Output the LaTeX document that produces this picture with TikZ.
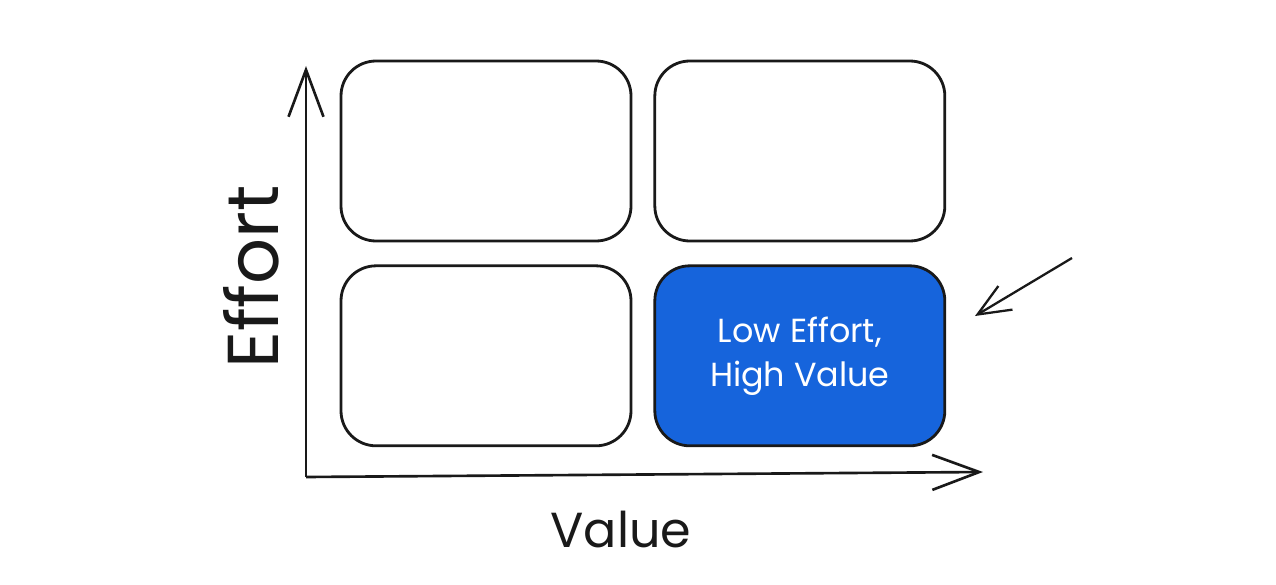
\documentclass[tikz,border=0pt]{standalone}
\usepackage{fontspec}
\setmainfont{Poppins}
\usetikzlibrary{arrows.meta, positioning}
\definecolor{quadblue}{RGB}{22,100,220}
\tikzset{
  quad/.style={
    rectangle, rounded corners=0.7cm, draw=black!90, line width=1.6pt,
    fill=white, minimum width=5.8cm, minimum height=3.6cm,
    align=center, font=\fontsize{19}{25}\selectfont
  },
  axis/.style={-{Straight Barb[length=0.94cm, width=0.7cm, line width=1.5pt]}, line width=1.5pt, draw=black!90},
  pointer/.style={-{Straight Barb[length=0.65cm, width=0.55cm, line width=1.3pt]}, line width=1.3pt, draw=black!90},
  axislabel/.style={font=\fontsize{#1}{38}\selectfont, text=black!90}
}
\begin{document}
\begin{tikzpicture}[node distance=0.44cm and 0.42cm]
  \useasboundingbox (0,0) rectangle (25.52,11.68);
  % quadrants
  \node[quad] (hehv) at (9.72,8.66) {};
  \node[quad, right=of hehv] (lehv0) {};
  \node[quad, below=of hehv] (lelv) {};
  \node[quad, fill=quadblue, text=white, right=of lelv] (lehv) {Low Effort,\\High Value};

  % axes
  \coordinate (origin) at (6.12,2.14);
  \coordinate (ytip) at (6.12,10.36);
  \coordinate (xtip) at (19.66,2.24);
  \draw[axis] (origin) -- (ytip);
  \draw[axis] (origin) -- (xtip);
  \node[axislabel=41, rotate=90] (effort) at (5.02,6.14) {Effort};
  \node[axislabel=28] (value) at (12.42,1.08) {Value};

  % pointer to the sweet spot
  \coordinate (tail) at (21.44,6.52);
  \coordinate (head) at (19.5,5.36);
  \draw[pointer] (tail) -- (head);
\end{tikzpicture}
\end{document}
